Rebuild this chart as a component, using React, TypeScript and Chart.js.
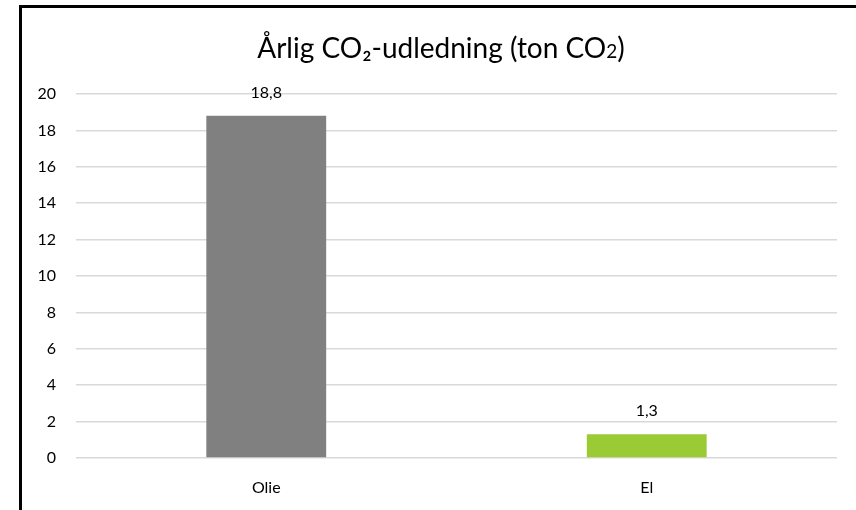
import React, { useEffect, useRef } from "react";
import { Chart, registerables } from "chart.js";

Chart.register(...registerables);

const categories = ["Olie", "El"];
const values = [18.8, 1.3];
const barColors = ["#808080", "#9ACB34"];
const valueLabels = ["18,8", "1,3"];
const titleMain = "Årlig CO₂-udledning (ton CO";
const titleSmall = "2";
const titleEnd = ")";
const FONT = "Lato, 'Open Sans', sans-serif";

export default function App() {
  const ref = useRef<HTMLCanvasElement | null>(null);
  useEffect(() => {
    if (!ref.current) return;
    const framePlugin = {
      id: "frame",
      beforeDraw(chart: any) {
        const ctx = chart.ctx;
        ctx.save();
        ctx.fillStyle = "#fff";
        ctx.fillRect(0, 0, chart.width, chart.height);
        ctx.strokeStyle = "#000";
        ctx.lineWidth = 3;
        ctx.strokeRect(20.5, 6.5, 900, 600);
        ctx.restore();
      },
      afterDraw(chart: any) {
        const ctx = chart.ctx;
        ctx.save();
        ctx.fillStyle = "#000";
        ctx.textBaseline = "alphabetic";
        ctx.textAlign = "left";
        const big = `28px ${FONT}`;
        const small = `19px ${FONT}`;
        ctx.font = big;
        const w1 = ctx.measureText(titleMain).width;
        const w3 = ctx.measureText(titleEnd).width;
        ctx.font = small;
        const w2 = ctx.measureText(titleSmall).width;
        const total = w1 + w2 + w3;
        let x = 441 - total / 2;
        const base = 58;
        ctx.font = big;
        ctx.fillText(titleMain, x, base);
        x += w1;
        ctx.font = small;
        ctx.fillText(titleSmall, x, base);
        x += w2;
        ctx.font = big;
        ctx.fillText(titleEnd, x, base);

        ctx.textAlign = "center";
        ctx.textBaseline = "middle";
        const meta = chart.getDatasetMeta(0);
        ctx.font = `16px ${FONT}`;
        meta.data.forEach((bar: any, i: number) => {
          ctx.fillText(valueLabels[i], bar.x, bar.y - 23);
        });
        ctx.restore();
      },
    };
    const chart = new Chart(ref.current, {
      type: "bar",
      data: {
        labels: categories,
        datasets: [
          {
            data: values,
            backgroundColor: barColors,
            barPercentage: 0.315,
            categoryPercentage: 1,
          },
        ],
      },
      options: {
        animation: false,
        responsive: false,
        layout: { padding: { left: 20, top: 94, right: 19, bottom: 0 } },
        plugins: { legend: { display: false }, tooltip: { enabled: false } },
        scales: {
          x: {
            grid: { display: false },
            border: { display: false },
            ticks: { color: "#000", font: { family: FONT, size: 16 }, padding: 12 },
            afterFit(scale: any) {
              scale.height = 52;
            },
          },
          y: {
            min: 0,
            max: 20,
            ticks: { stepSize: 2, color: "#000", font: { family: FONT, size: 16 }, padding: 20 },
            grid: { color: "#d9d9d9", lineWidth: 1.5, drawTicks: false },
            border: { display: false },
            afterFit(scale: any) {
              scale.width = 56;
            },
          },
        },
      },
      plugins: [framePlugin],
    });
    return () => chart.destroy();
  }, []);
  return (
    <div style={{ position: "fixed", left: 0, top: 0, width: 856, height: 510 }}>
      <canvas ref={ref} width={856} height={510} style={{ display: "block" }} />
    </div>
  );
}
